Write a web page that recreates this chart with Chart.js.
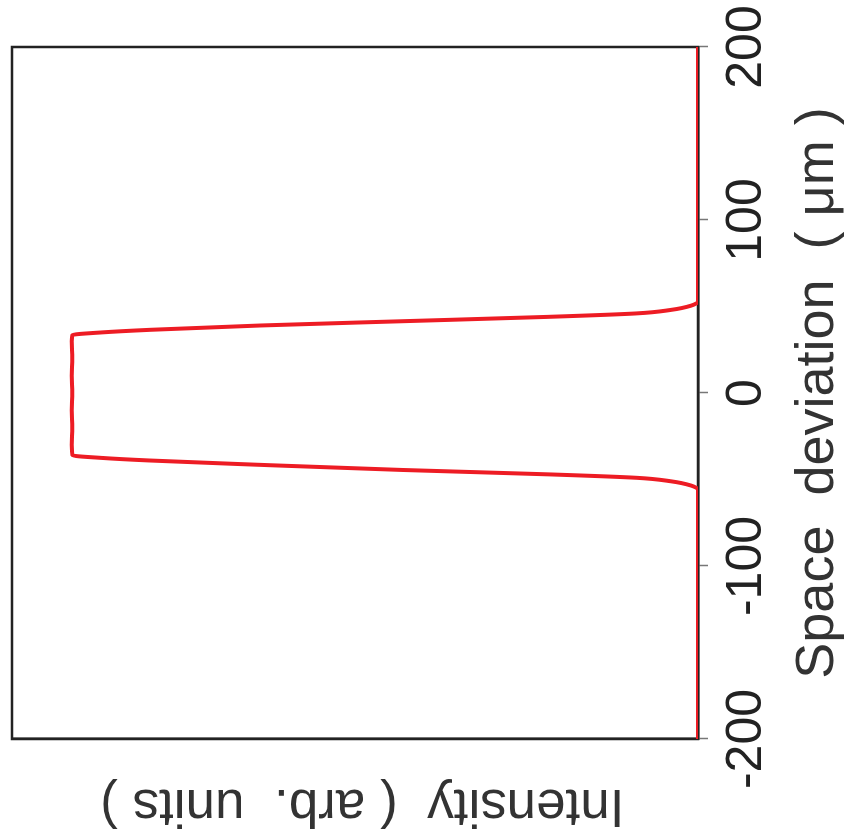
<!DOCTYPE html>
<html>
<head>
<meta charset="utf-8">
<script src="https://cdn.jsdelivr.net/npm/chart.js@4.4.0/dist/chart.umd.min.js"></script>
<style>
html, body { margin: 0; padding: 0; background: #fff; overflow: hidden; }
/* chart is drawn upright, then turned a quarter left like the figure */
#wrap { position: absolute; left: 0; top: 0; width: 839px; height: 848px;
        transform-origin: 0 0; transform: translate(0, 839px) rotate(-90deg); }
</style>
</head>
<body>
<div id="wrap"><canvas id="profileChart" width="839" height="848"></canvas></div>
<script>
// space deviation (um) and intensity (arb. units)
const spaceDeviation = [-200, -56, -53.5, -51, -49, -47, -44.5, -41.5, -39, -37.5, -36,
    -30, -20, -10, 0, 10, 20, 30,
    33.5, 35, 36.5, 39, 41.5, 44, 46, 48, 50.5, 53, 200];
const intensity = [0, 0, 0.01, 0.04, 0.09, 0.22, 0.43, 0.64, 0.80, 0.87, 0.912,
    0.913, 0.912, 0.913, 0.912, 0.913, 0.912, 0.913,
    0.912, 0.87, 0.80, 0.64, 0.43, 0.22, 0.09, 0.04, 0.01, 0, 0];
const spaceTicks = [-200, -100, 0, 100, 200];

const frame = {
    id: 'frame',
    beforeDatasetsDraw(chart) {
        const a = chart.chartArea;
        const c = chart.ctx;
        c.save();
        c.strokeStyle = '#222';
        c.lineWidth = 2.5;
        c.strokeRect(a.left, a.top, a.right - a.left, a.bottom - a.top);
        c.restore();
    }
};

const ctx = document.getElementById('profileChart').getContext('2d');
new Chart(ctx, {
    type: 'scatter',
    data: {
        datasets: [{
            data: spaceDeviation.map((s, i) => ({ x: s, y: intensity[i] })),
            showLine: true,
            borderColor: '#ed1c24',
            borderWidth: 4,
            pointRadius: 0,
            cubicInterpolationMode: 'monotone'
        }]
    },
    options: {
        responsive: false,
        animation: false,
        layout: { padding: { left: 0, top: 12, right: 47, bottom: 0 } },
        plugins: { legend: { display: false }, tooltip: { enabled: false } },
        scales: {
            x: {
                type: 'linear',
                min: -200,
                max: 200,
                afterBuildTicks: s => { s.ticks = spaceTicks.map(v => ({ value: v })); },
                afterFit: s => { s.height = 150; s.paddingLeft = 0; s.paddingRight = 0; },
                grid: { drawOnChartArea: false, tickLength: 10, tickWidth: 1.5, tickColor: '#777' },
                border: { color: '#222', width: 2.5 },
                ticks: {
                    color: '#222',
                    padding: 9,
                    maxRotation: 0,
                    font: { family: 'Liberation Sans', size: 50 }
                },
                title: {
                    display: true,
                    text: 'Space  deviation  ( μm )',
                    color: '#333',
                    font: { family: 'Liberation Sans', size: 54, lineHeight: 1 },
                    padding: { top: 0, bottom: 3 }
                }
            },
            y: {
                min: 0,
                max: 1,
                afterFit: s => { s.width = 100; },
                grid: { display: false },
                border: { color: '#222', width: 2.5 },
                ticks: { display: false },
                title: {
                    display: true,
                    text: 'Intensity  ( arb.  units ) ',
                    color: '#333',
                    font: { family: 'Liberation Sans', size: 53, lineHeight: 1 },
                    padding: { top: 8, bottom: 0 }
                }
            }
        }
    },
    plugins: [frame]
});
</script>
</body>
</html>
